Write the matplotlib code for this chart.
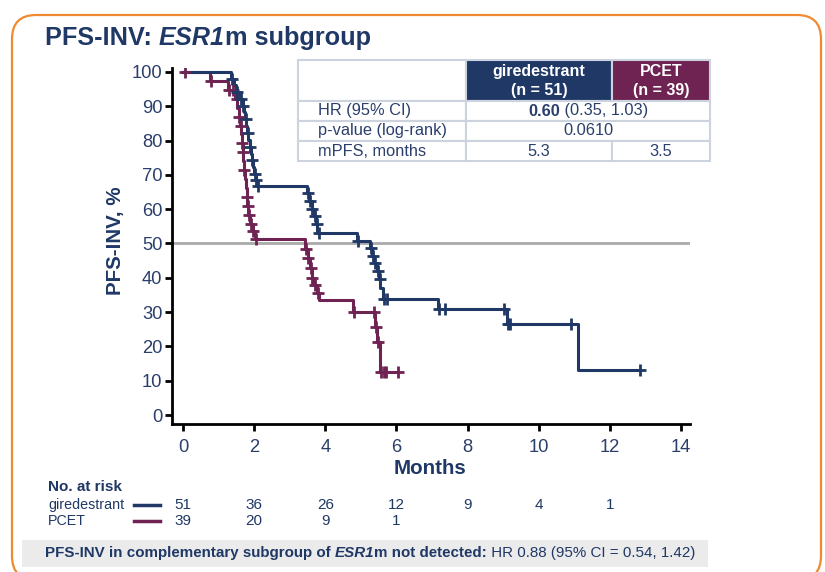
import matplotlib
matplotlib.use('Agg')
import matplotlib.pyplot as plt
import matplotlib.transforms as mtransforms
from matplotlib.patches import Rectangle, FancyBboxPatch
from matplotlib.lines import Line2D
import numpy as np

plt.rcParams['font.family'] = ['Liberation Sans', 'DejaVu Sans']

NAVY = '#1f3866'
PLUM = '#6e2352'
TXT = '#2b3f6c'
GRID = '#aaaaaa'
BORDER = '#cdd3de'

# ---------------- data ----------------
month_ticks = [0, 2, 4, 6, 8, 10, 12, 14]
pct_ticks = [0, 10, 20, 30, 40, 50, 60, 70, 80, 90, 100]

# giredestrant KM steps (time in months, PFS %)
gire_t = [0, 1.35, 1.42, 1.50, 1.60, 1.68, 1.72, 1.75, 1.78, 1.81, 1.84, 1.87, 1.90,
          1.93, 1.96, 2.00, 2.04, 2.08, 3.48, 3.55, 3.62, 3.68, 3.74, 3.78, 4.89,
          5.26, 5.32, 5.38, 5.44, 5.50, 5.55, 5.62, 7.17, 9.10, 11.10]
gire_s = [100, 98.0, 96.1, 94.1, 92.2, 90.2, 88.2, 86.2, 84.2, 82.2, 80.2, 78.2, 76.2,
          74.2, 72.2, 70.2, 68.5, 66.8, 64.6, 62.4, 60.2, 58.0, 55.7, 53.0, 50.7,
          48.6, 46.4, 44.2, 42.0, 39.7, 37.0, 33.8, 30.9, 26.5, 13.2]
gire_end = 12.85
gire_cens = [1.38, 1.52, 1.62, 1.70, 1.76, 1.82, 1.88, 1.94, 2.02, 2.06, 2.12,
             3.50, 3.58, 3.64, 3.70, 3.76, 3.82, 4.92, 5.28, 5.35, 5.40, 5.47,
             5.53, 5.64, 5.74, 7.20, 7.37, 9.02, 9.14, 9.20, 10.92, 12.85]

# PCET KM steps
pcet_t = [0, 0.76, 1.26, 1.45, 1.53, 1.57, 1.61, 1.64, 1.66, 1.68, 1.70, 1.72, 1.74,
          1.76, 1.79, 1.81, 1.83, 1.88, 1.96, 2.02, 3.43, 3.50, 3.56, 3.62, 3.68,
          3.76, 3.82, 4.78, 5.40, 5.46, 5.54]
pcet_s = [100, 97.4, 94.8, 92.2, 89.6, 87.0, 84.4, 81.8, 79.2, 76.6, 74.0, 71.4, 68.8,
          66.2, 63.6, 61.0, 58.4, 55.8, 53.5, 51.3, 48.5, 45.7, 42.9, 40.0, 37.8,
          35.6, 33.5, 30.0, 25.7, 21.3, 12.5]
pcet_end = 6.04
pcet_cens = [0.05, 0.79, 1.30, 1.40, 1.52, 1.58, 1.62, 1.66, 1.69, 1.72, 1.80,
             1.82, 1.85, 1.90, 1.98, 2.04, 3.45, 3.52, 3.60, 3.64, 3.72, 3.80,
             4.80, 5.36, 5.42, 5.48, 5.58, 5.64, 5.70, 6.04]

risk_times = [0, 2, 4, 6, 8, 10, 12]
risk_gire = [51, 36, 26, 12, 9, 4, 1]
risk_pcet = [39, 20, 9, 1]

table_heads = ['giredestrant\n(n = 51)', 'PCET\n(n = 39)']
table_rows = ['HR (95% CI)', 'p-value (log-rank)', 'mPFS, months']
hr_point = '0.60'
hr_ci = ' (0.35, 1.03)'
p_value = '0.0610'
mpfs = ['5.3', '3.5']

# ---------------- figure ----------------
W, H = 825, 572
fig = plt.figure(figsize=(W / 100, H / 100), dpi=100)


def fx(px):
    return px / W


def fy(py):
    return 1 - py / H


ax = fig.add_axes([fx(172), fy(424), fx(690) - fx(172), fy(68) - fy(424)])
px_per_month = (681 - 183) / 14
px_per_pct = (415 - 72) / 100
ax.set_xlim((172 - 183) / px_per_month, (690 - 183) / px_per_month)
ax.set_ylim(-(424 - 415) / px_per_pct, 100 + (72 - 68) / px_per_pct)

ax.axhline(50, color=GRID, lw=2, zorder=1)


def draw_km(t, s, end, cens, color):
    xs = list(t) + [end]
    ys = list(s) + [s[-1]]
    ax.step(xs, ys, where='post', color=color, lw=2.2, zorder=3)
    ta = np.array(t)
    sa = np.array(s)
    idx = np.searchsorted(ta, np.array(cens), side='right') - 1
    ax.plot(cens, sa[idx], ls='none', marker='+', ms=8, mew=2, color=color, zorder=4)


draw_km(pcet_t, pcet_s, pcet_end, pcet_cens, PLUM)
draw_km(gire_t, gire_s, gire_end, gire_cens, NAVY)

ax.set_xticks(month_ticks)
ax.set_yticks(pct_ticks)
for sp in ['top', 'right']:
    ax.spines[sp].set_visible(False)
for sp in ['left', 'bottom']:
    ax.spines[sp].set_linewidth(2)
    ax.spines[sp].set_color('black')
ax.tick_params(axis='both', direction='out', length=5, width=2, colors='black',
               labelcolor=TXT, labelsize=13.2)
ax.tick_params(axis='x', pad=6)
ax.tick_params(axis='y', pad=2)
ax.patch.set_alpha(0)

fig.text(fx(116), fy(241), 'PFS-INV, %', rotation=90, ha='center', va='center',
         fontsize=14.8, fontweight='bold', color=NAVY)
fig.text(fx(430), fy(468), 'Months', ha='center', va='center',
         fontsize=14.8, fontweight='bold', color=NAVY)

renderer = fig.canvas.get_renderer()


def rich(x_px, y_px, pieces, ha='left', size=12, color=TXT):
    arts = []
    for txt, kw in pieces:
        a = fig.text(0, fy(y_px), txt, va='center', ha='left', fontsize=size,
                     color=kw.get('color', color), fontweight=kw.get('weight', 'normal'),
                     fontstyle=kw.get('style', 'normal'))
        arts.append(a)
    widths = [a.get_window_extent(renderer).width for a in arts]
    total = sum(widths)
    start = x_px if ha == 'left' else x_px - total / 2
    cur = start
    for a, w in zip(arts, widths):
        a.set_x(fx(cur))
        cur += w
    return arts


# title
rich(45, 38, [('PFS-INV: ', {'weight': 'bold'}), ('ESR1', {'weight': 'bold', 'style': 'italic'}),
              ('m subgroup', {'weight': 'bold'})], size=18.2, color=NAVY)

# ---------------- table ----------------
cx = [298, 466, 612, 710]
ry = [60, 101, 121, 141, 161]


def cell(x0, y0, x1, y1, fc='white'):
    fig.patches.append(Rectangle((fx(x0), fy(y1)), fx(x1) - fx(x0), fy(y0) - fy(y1),
                                 transform=fig.transFigure, facecolor=fc,
                                 edgecolor=BORDER, lw=1.5, zorder=5))


cell(cx[0], ry[0], cx[1], ry[1])
cell(cx[1], ry[0], cx[2], ry[1], NAVY)
cell(cx[2], ry[0], cx[3], ry[1], PLUM)
for i in range(3):
    cell(cx[0], ry[i + 1], cx[1], ry[i + 2])
cell(cx[1], ry[1], cx[3], ry[2])
cell(cx[1], ry[2], cx[3], ry[3])
cell(cx[1], ry[3], cx[2], ry[4])
cell(cx[2], ry[3], cx[3], ry[4])

for j, head in enumerate(table_heads):
    fig.text(fx((cx[j + 1] + cx[j + 2]) / 2), fy(81), head, ha='center', va='center',
             fontsize=11.5, fontweight='bold', color='white', linespacing=1.3, zorder=6)
for i, lab in enumerate(table_rows):
    fig.text(fx(318), fy((ry[i + 1] + ry[i + 2]) / 2), lab, ha='left', va='center',
             fontsize=11.8, color=TXT, zorder=6)
arts = rich((cx[1] + cx[3]) / 2, (ry[1] + ry[2]) / 2,
            [(hr_point, {'weight': 'bold'}), (hr_ci, {})], ha='center', size=11.8)
for a in arts:
    a.set_zorder(6)
fig.text(fx((cx[1] + cx[3]) / 2), fy((ry[2] + ry[3]) / 2), p_value, ha='center',
         va='center', fontsize=11.8, color=TXT, zorder=6)
for j, v in enumerate(mpfs):
    fig.text(fx((cx[j + 1] + cx[j + 2]) / 2), fy((ry[3] + ry[4]) / 2), v, ha='center',
             va='center', fontsize=11.8, color=TXT, zorder=6)

# ---------------- risk table ----------------
fig.text(fx(48), fy(487), 'No. at risk', ha='left', va='center', fontsize=11,
         fontweight='bold', color=NAVY)
fig.text(fx(48), fy(505), 'giredestrant', ha='left', va='center', fontsize=10.3, color=NAVY)
fig.text(fx(48), fy(521), 'PCET', ha='left', va='center', fontsize=10.3, color=NAVY)
fig.lines.append(Line2D([fx(134), fx(160)], [fy(505), fy(505)], transform=fig.transFigure,
                        color=NAVY, lw=2.5))
fig.lines.append(Line2D([fx(134), fx(160)], [fy(521), fy(521)], transform=fig.transFigure,
                        color=PLUM, lw=2.5))
blend = mtransforms.blended_transform_factory(ax.transData, fig.transFigure)
for t, n in zip(risk_times, risk_gire):
    ax.text(t, fy(505), str(n), transform=blend, ha='center', va='center', fontsize=11,
            color=NAVY, clip_on=False)
for t, n in zip(risk_times, risk_pcet):
    ax.text(t, fy(521), str(n), transform=blend, ha='center', va='center', fontsize=11,
            color=NAVY, clip_on=False)

# ---------------- footer ----------------
fig.patches.append(Rectangle((fx(22), fy(567)), fx(708) - fx(22), fy(540) - fy(567),
                             transform=fig.transFigure, facecolor='#ebebeb',
                             edgecolor='none', zorder=0))
rich(45, 553, [('PFS-INV in complementary subgroup of ', {'weight': 'bold'}),
               ('ESR1', {'weight': 'bold', 'style': 'italic'}),
               ('m not detected:', {'weight': 'bold'}),
               (' HR 0.88 (95% CI = 0.54, 1.42)', {})], size=10.9, color=NAVY)

# ---------------- orange frame ----------------
frame = FancyBboxPatch((12, -8), 809, H - 15 + 8,
                       boxstyle='round,pad=0,rounding_size=24',
                       transform=mtransforms.IdentityTransform(),
                       facecolor='none', edgecolor='#f08a30', lw=1.6, zorder=10)
fig.patches.append(frame)

fig.savefig('out.png', dpi=100)
